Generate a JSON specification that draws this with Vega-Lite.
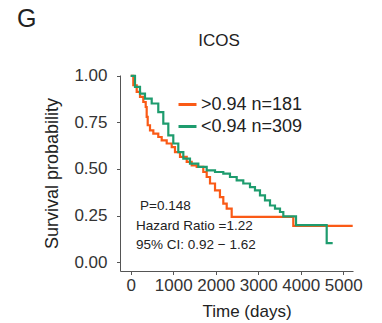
{
  "$schema": "https://vega.github.io/schema/vega-lite/v6.json",
  "width": 233,
  "height": 196,
  "autosize": "none",
  "padding": {"left": 120, "top": 75, "right": 29, "bottom": 52},
  "title": {"text": "G", "anchor": "start", "frame": "group", "dx": -103, "offset": -20, "fontSize": 25, "font": "Liberation Sans", "fontWeight": "normal", "color": "#222", "baseline": "alphabetic"},
  "config": {
    "view": {"stroke": null},
    "font": "Liberation Sans",
    "axis": {"domainColor": "#555", "tickColor": "#555", "labelColor": "#333", "titleColor": "#222", "labelFont": "Liberation Sans", "titleFont": "Liberation Sans", "titleFontWeight": "normal", "grid": false, "domainWidth": 1, "tickWidth": 1},
    "legend": {"orient": "none", "legendX": 57, "legendY": 19, "padding": 0, "symbolType": "stroke", "symbolSize": 324, "symbolStrokeWidth": 3, "labelFontSize": 18, "labelFont": "Liberation Sans", "labelColor": "#222", "labelOffset": 3, "rowPadding": 2, "title": null}
  },
  "datasets": {
    "high": [
      {"group": ">0.94 n=181", "time": 0, "surv": 1.0},
      {"group": ">0.94 n=181", "time": 61, "surv": 0.95},
      {"group": ">0.94 n=181", "time": 141, "surv": 0.914},
      {"group": ">0.94 n=181", "time": 219, "surv": 0.887},
      {"group": ">0.94 n=181", "time": 296, "surv": 0.86},
      {"group": ">0.94 n=181", "time": 353, "surv": 0.833},
      {"group": ">0.94 n=181", "time": 376, "surv": 0.78},
      {"group": ">0.94 n=181", "time": 400, "surv": 0.735},
      {"group": ">0.94 n=181", "time": 454, "surv": 0.708},
      {"group": ">0.94 n=181", "time": 532, "surv": 0.69},
      {"group": ">0.94 n=181", "time": 649, "surv": 0.672},
      {"group": ">0.94 n=181", "time": 729, "surv": 0.654},
      {"group": ">0.94 n=181", "time": 847, "surv": 0.637},
      {"group": ">0.94 n=181", "time": 965, "surv": 0.618},
      {"group": ">0.94 n=181", "time": 1042, "surv": 0.591},
      {"group": ">0.94 n=181", "time": 1160, "surv": 0.565},
      {"group": ">0.94 n=181", "time": 1318, "surv": 0.538},
      {"group": ">0.94 n=181", "time": 1435, "surv": 0.52},
      {"group": ">0.94 n=181", "time": 1553, "surv": 0.511},
      {"group": ">0.94 n=181", "time": 1708, "surv": 0.484},
      {"group": ">0.94 n=181", "time": 1788, "surv": 0.457},
      {"group": ">0.94 n=181", "time": 1866, "surv": 0.422},
      {"group": ">0.94 n=181", "time": 1984, "surv": 0.385},
      {"group": ">0.94 n=181", "time": 2100, "surv": 0.349},
      {"group": ">0.94 n=181", "time": 2179, "surv": 0.314},
      {"group": ">0.94 n=181", "time": 2259, "surv": 0.287},
      {"group": ">0.94 n=181", "time": 2376, "surv": 0.243},
      {"group": ">0.94 n=181", "time": 3826, "surv": 0.194},
      {"group": ">0.94 n=181", "time": 5224, "surv": 0.194}
    ],
    "low": [
      {"group": "<0.94 n=309", "time": 0, "surv": 1.0},
      {"group": "<0.94 n=309", "time": 101, "surv": 0.941},
      {"group": "<0.94 n=309", "time": 219, "surv": 0.905},
      {"group": "<0.94 n=309", "time": 336, "surv": 0.878},
      {"group": "<0.94 n=309", "time": 494, "surv": 0.852},
      {"group": "<0.94 n=309", "time": 649, "surv": 0.806},
      {"group": "<0.94 n=309", "time": 767, "surv": 0.744},
      {"group": "<0.94 n=309", "time": 885, "surv": 0.681},
      {"group": "<0.94 n=309", "time": 1002, "surv": 0.637},
      {"group": "<0.94 n=309", "time": 1120, "surv": 0.591},
      {"group": "<0.94 n=309", "time": 1238, "surv": 0.556},
      {"group": "<0.94 n=309", "time": 1395, "surv": 0.529},
      {"group": "<0.94 n=309", "time": 1591, "surv": 0.511},
      {"group": "<0.94 n=309", "time": 1788, "surv": 0.493},
      {"group": "<0.94 n=309", "time": 1984, "surv": 0.484},
      {"group": "<0.94 n=309", "time": 2179, "surv": 0.475},
      {"group": "<0.94 n=309", "time": 2336, "surv": 0.457},
      {"group": "<0.94 n=309", "time": 2494, "surv": 0.439},
      {"group": "<0.94 n=309", "time": 2649, "surv": 0.422},
      {"group": "<0.94 n=309", "time": 2807, "surv": 0.403},
      {"group": "<0.94 n=309", "time": 2924, "surv": 0.385},
      {"group": "<0.94 n=309", "time": 3042, "surv": 0.358},
      {"group": "<0.94 n=309", "time": 3160, "surv": 0.331},
      {"group": "<0.94 n=309", "time": 3278, "surv": 0.304},
      {"group": "<0.94 n=309", "time": 3395, "surv": 0.287},
      {"group": "<0.94 n=309", "time": 3513, "surv": 0.269},
      {"group": "<0.94 n=309", "time": 3591, "surv": 0.245},
      {"group": "<0.94 n=309", "time": 3890, "surv": 0.198},
      {"group": "<0.94 n=309", "time": 4612, "surv": 0.102},
      {"group": "<0.94 n=309", "time": 4753, "surv": 0.102}
    ],
    "notes": [
      {"time": 219, "surv": 0.301, "label": "P=0.148"},
      {"time": 125, "surv": 0.1935, "label": "Hazard Ratio =1.22"},
      {"time": 125, "surv": 0.0898, "label": "95% CI: 0.92 − 1.62"}
    ]
  },
  "encoding": {
    "y": {
      "field": "surv", "type": "quantitative",
      "scale": {"domain": [-0.048, 1.005], "nice": false, "zero": false},
      "axis": {"values": [0, 0.25, 0.5, 0.75, 1], "format": ".2f", "title": "Survival probability", "labelFontSize": 17, "tickSize": 3.5, "labelPadding": 9.5, "labelBaseline": "middle", "titleFontSize": 18, "titleX": -63, "titleY": 98, "titleAngle": 270, "titleBaseline": "alphabetic", "titleAlign": "center"}
    }
  },
  "resolve": {"axis": {"x": "independent"}},
  "layer": [
    {
      "data": {"name": "high"},
      "mark": {"type": "line", "interpolate": "step-after", "strokeWidth": 2.2},
      "encoding": {
        "x": {
          "field": "time", "type": "quantitative",
          "scale": {"domain": [-252, 5231], "nice": false, "zero": false},
          "axis": {"values": [0, 1000, 2000, 3000, 4000, 5000], "format": "d", "title": "Time (days)", "labelFontSize": 17, "tickSize": 3.5, "labelPadding": 16, "labelBaseline": "alphabetic", "labelFlush": false, "labelOverlap": false, "titleFontSize": 17, "titleX": 126.5, "titleY": 45.5, "titleBaseline": "alphabetic", "titleAlign": "center"}
        },
        "color": {
          "field": "group", "type": "nominal",
          "scale": {"domain": [">0.94 n=181", "<0.94 n=309"], "range": ["#FA5A16", "#1E9C6E"]},
          "legend": {}
        }
      }
    },
    {
      "data": {"name": "low"},
      "mark": {"type": "line", "interpolate": "step-after", "strokeWidth": 2.2},
      "encoding": {
        "x": {"field": "time", "type": "quantitative", "axis": null},
        "color": {"field": "group", "type": "nominal"}
      }
    },
    {
      "data": {"name": "notes"},
      "mark": {"type": "text", "align": "left", "baseline": "middle", "fontSize": 13.5, "font": "Liberation Sans", "color": "#222"},
      "encoding": {
        "x": {
          "field": "time", "type": "quantitative",
          "axis": {"orient": "top", "title": "ICOS", "labels": false, "ticks": false, "domain": false, "titleFontSize": 17, "titleX": 98.5, "titleY": -29.3, "titleBaseline": "alphabetic", "titleAlign": "center", "titlePadding": 0}
        },
        "text": {"field": "label"}
      }
    }
  ]
}
